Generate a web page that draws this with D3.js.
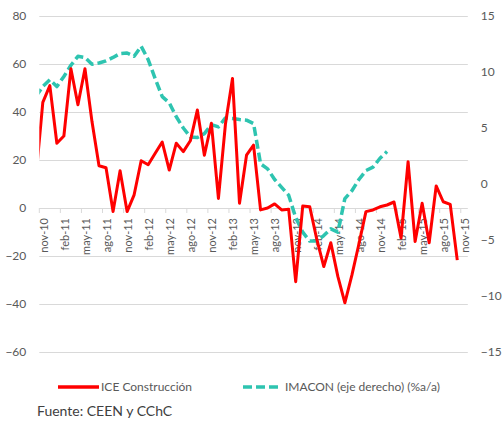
<!DOCTYPE html>
<html>
<head>
<meta charset="utf-8">
<script src="https://cdn.jsdelivr.net/npm/d3@7"></script>
<style>
  html, body { margin: 0; padding: 0; background: #fff; }
  svg { display: block; font-family: Lato, "Liberation Sans", sans-serif; }
</style>
</head>
<body>
<svg id="chart" width="502" height="423"></svg>
<script>
// Categories (first month lies just left of the visible axis and is clipped)
const months = ["oct-10","nov-10","dic-10",
  "ene-11","feb-11","mar-11","abr-11","may-11","jun-11","jul-11","ago-11","sep-11","oct-11","nov-11","dic-11",
  "ene-12","feb-12","mar-12","abr-12","may-12","jun-12","jul-12","ago-12","sep-12","oct-12","nov-12","dic-12",
  "ene-13","feb-13","mar-13","abr-13","may-13","jun-13","jul-13","ago-13","sep-13","oct-13","nov-13","dic-13",
  "ene-14","feb-14","mar-14","abr-14","may-14","jun-14","jul-14","ago-14","sep-14","oct-14","nov-14","dic-14",
  "ene-15","feb-15","mar-15","abr-15","may-15","jun-15","jul-15","ago-15","sep-15","oct-15","nov-15"];

// ICE Construcción (left axis)
const ice = [12, 44, 51, 27, 30, 58, 43, 58, 36, 17.6, 16.8, -1.5, 15.5, -1.5, 5.5, 19.7,
  18, 22.8, 27.5, 15.8, 27, 23.5, 28, 40.8, 22, 35.3, 4, 35, 54, 2, 22, 26.2,
  -0.8, 0, 1.7, -0.8, -0.5, -30.7, 0.8, 0.5, -13, -24.4, -14.5, -28.5, -39.5, -28, -15,
  -1.5, -0.8, 0.5, 1.25, 2.5, -12.5, 19.3, -14, 2, -14.5, 9.2, 2.6, 1.5, -21.7, null];

// IMACON (right axis, %a/a)
const imacon = [7.8, 8.7, 9.3, 8.7, 9.6, 10.6, 11.4, 11.3, 10.7, 10.8, 11.0, 11.3, 11.65, 11.7, 11.4, 12.3,
  11.1, 9.4, 7.8, 7.25, 6.0, 5.0, 4.2, 4.15, 4.5, 5.3, 5.1, 5.9, 5.85, 5.75, 5.7, 5.4,
  1.8, 1.35, 0.4, -0.3, -1.0, -3.0, -4.3, -5.1, -5.1, -4.6, -4.0, -4.3, -1.3, -0.6, 0.4,
  1.2, 1.5, 2.3, 2.9, null, null, null, null, null, null, null, null, null, null, null];

const xTickLabels = ["nov-10","feb-11","may-11","ago-11","nov-11","feb-12","may-12","ago-12","nov-12",
  "feb-13","may-13","ago-13","nov-13","feb-14","may-14","ago-14","nov-14","feb-15","may-15","ago-15","nov-15"];
const leftTicks = [-60, -40, -20, 0, 20, 40, 60, 80];
const rightTicks = [-15, -10, -5, 0, 5, 10, 15];

const seriesNames = ["ICE Construcción", "IMACON (eje derecho) (%a/a)"];
const sourceText = "Fuente: CEEN y CChC";

// Layout
const L = 39.3, R = 467.8, T = 16, B = 352;
const nVisible = months.length - 1;
const bw = (R - L) / nVisible;

const svg = d3.select("#chart");
const x = d3.scaleBand().domain(months).range([L - bw, R]).padding(0);
const yL = d3.scaleLinear().domain([-60, 80]).range([B, T]);
const yR = d3.scaleLinear().domain([-15, 15]).range([B, T]);
const cx = m => x(m) + x.bandwidth() / 2;

const grid = "#d9d9d9", txt = "#595959";

// gridlines
svg.append("g").call(d3.axisLeft(yL).tickValues(leftTicks).tickSize(-(R - L)).tickFormat(""))
  .attr("transform", `translate(${L},0)`)
  .call(g => g.select(".domain").remove())
  .call(g => g.selectAll("line").attr("stroke", grid).attr("stroke-width", 1));

// left labels
svg.append("g").attr("transform", `translate(${L},0)`)
  .call(d3.axisLeft(yL).tickValues(leftTicks).tickSize(0).tickPadding(13))
  .call(g => g.select(".domain").remove())
  .call(g => g.selectAll("text").attr("fill", txt).style("font-size", "12px").style("font-family", "Lato, sans-serif"));

// right labels
svg.append("g").attr("transform", `translate(${R},0)`)
  .call(d3.axisRight(yR).tickValues(rightTicks).tickSize(0).tickPadding(13))
  .call(g => g.select(".domain").remove())
  .call(g => g.selectAll("text").attr("fill", txt).style("font-size", "12px").style("font-family", "Lato, sans-serif"));

// x tick marks at category boundaries on zero line
svg.append("g").selectAll("line").data(xTickLabels).join("line")
  .attr("x1", d => x(d)).attr("x2", d => x(d))
  .attr("y1", yL(0)).attr("y2", yL(0) + 5)
  .attr("stroke", grid).attr("stroke-width", 1);

// x labels
const xa = svg.append("g").attr("transform", `translate(0,${yL(0)})`)
  .call(d3.axisBottom(x).tickValues(xTickLabels).tickSize(0).tickFormat(d => d));
xa.select(".domain").remove();
xa.selectAll("text")
  .attr("fill", txt).style("font-size", "11px").style("font-family", "Lato, sans-serif")
  .attr("text-anchor", "end")
  .attr("transform", "rotate(-90)")
  .attr("x", -10).attr("y", 1).attr("dy", "0.35em");

// clip
svg.append("clipPath").attr("id", "plotclip")
  .append("rect").attr("x", L).attr("y", 0).attr("width", R - L).attr("height", 423);

const lineL = d3.line().defined(d => d.v != null).x(d => cx(d.m)).y(d => yL(d.v));
const lineR = d3.line().defined(d => d.v != null).x(d => cx(d.m)).y(d => yR(d.v));

const redColor = "#ff0000", tealColor = "#2ec4b0";

const plot = svg.append("g").attr("clip-path", "url(#plotclip)");
plot.append("path")
  .datum(months.map((m, i) => ({ m, v: imacon[i] })))
  .attr("d", lineR).attr("fill", "none")
  .attr("stroke", tealColor).attr("stroke-width", 3.5)
  .attr("stroke-dasharray", "9,4").attr("stroke-linejoin", "round");
plot.append("path")
  .datum(months.map((m, i) => ({ m, v: ice[i] })))
  .attr("d", lineL).attr("fill", "none")
  .attr("stroke", redColor).attr("stroke-width", 3).attr("stroke-linejoin", "round");

// legend
const lg = svg.append("g");
lg.append("line").attr("x1", 58).attr("x2", 99).attr("y1", 387).attr("y2", 387)
  .attr("stroke", redColor).attr("stroke-width", 3.5);
lg.append("text").attr("x", 101).attr("y", 387).attr("dy", "0.35em")
  .attr("fill", txt).style("font-size", "12px").text(seriesNames[0]);
lg.append("line").attr("x1", 243).attr("x2", 278).attr("y1", 387).attr("y2", 387)
  .attr("stroke", tealColor).attr("stroke-width", 3.5).attr("stroke-dasharray", "9,4");
lg.append("text").attr("x", 285).attr("y", 387).attr("dy", "0.35em")
  .attr("fill", txt).style("font-size", "12px").text(seriesNames[1]);

// source
svg.append("text").attr("x", 37).attr("y", 411).attr("dy", "0.35em")
  .attr("fill", "#404040").style("font-size", "14px").text(sourceText);
</script>
</body>
</html>
